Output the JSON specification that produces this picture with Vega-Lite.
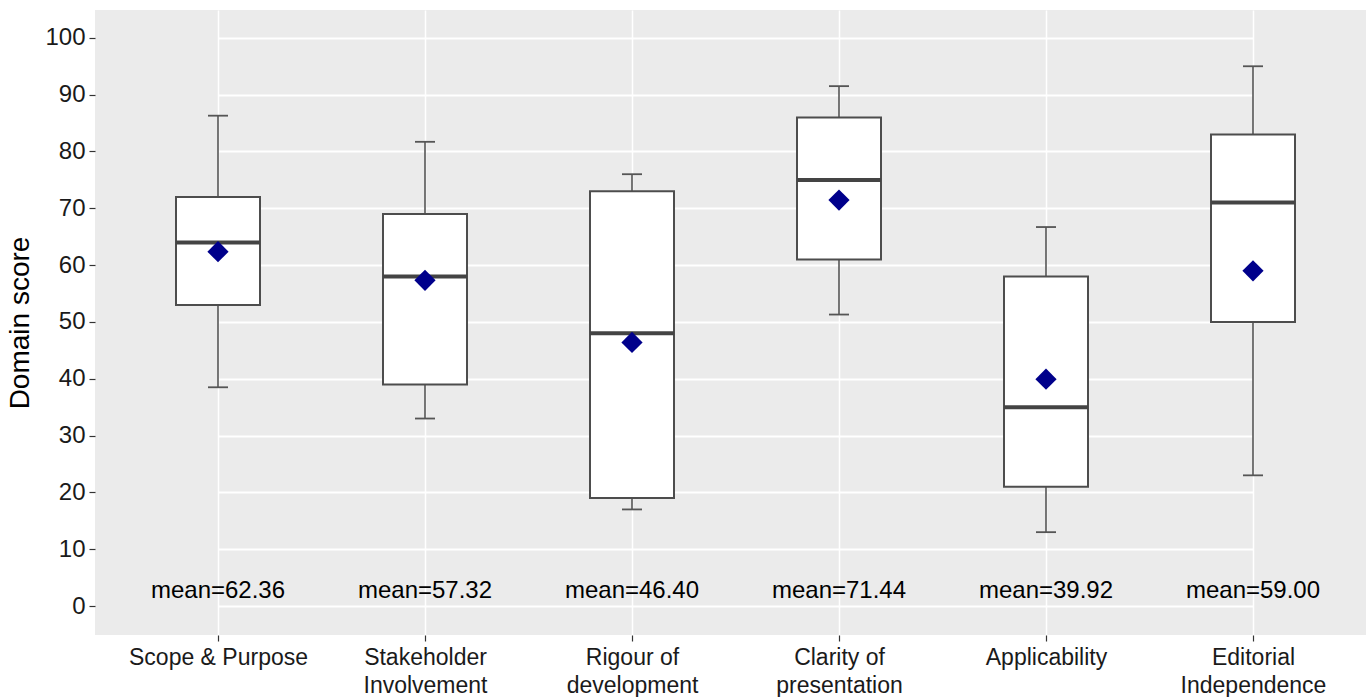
{
  "$schema": "https://vega.github.io/schema/vega-lite/v6.json",
  "width": 1271,
  "height": 625,
  "autosize": {"type": "none"},
  "padding": {"left": 95, "top": 10, "right": 0, "bottom": 62},
  "background": "white",
  "config": {
    "view": {"stroke": null, "fill": "#EBEBEB"},
    "font": "Liberation Sans"
  },
  "data": {
    "values": [
      {"domain": "Scope & Purpose", "low": 38.5, "q1": 53, "median": 64, "q3": 72, "high": 86.3, "mean": 62.36, "label": "mean=62.36", "ty": 2.6},
      {"domain": "Stakeholder|Involvement", "low": 33, "q1": 39, "median": 58, "q3": 69, "high": 81.7, "mean": 57.32, "label": "mean=57.32", "ty": 2.6},
      {"domain": "Rigour of|development", "low": 17, "q1": 19, "median": 48, "q3": 73, "high": 76, "mean": 46.4, "label": "mean=46.40", "ty": 2.6},
      {"domain": "Clarity of|presentation", "low": 51.3, "q1": 61, "median": 75, "q3": 86, "high": 91.5, "mean": 71.44, "label": "mean=71.44", "ty": 2.6},
      {"domain": "Applicability", "low": 13, "q1": 21, "median": 35, "q3": 58, "high": 66.7, "mean": 39.92, "label": "mean=39.92", "ty": 2.6},
      {"domain": "Editorial|Independence", "low": 23, "q1": 50, "median": 71, "q3": 83, "high": 95, "mean": 59.0, "label": "mean=59.00", "ty": 2.6}
    ]
  },
  "encoding": {
    "x": {
      "field": "domain",
      "type": "nominal",
      "sort": null,
      "scale": {"type": "point", "range": [123, 1158], "padding": 0},
      "axis": {
        "title": null,
        "domain": false,
        "grid": true,
        "gridColor": "white",
        "gridWidth": 1.5,
        "ticks": true,
        "tickColor": "#333333",
        "tickSize": 6,
        "tickWidth": 1.2,
        "labelAngle": 0,
        "labelFontSize": 23,
        "labelColor": "#1a1a1a",
        "labelPadding": 5,
        "labelLineHeight": 28,
        "labelBaseline": "top",
        "labelExpr": "split(datum.label, '|')"
      }
    }
  },
  "layer": [
    {
      "mark": {"type": "rule", "color": "#555555", "strokeWidth": 1.6},
      "encoding": {
        "y": {
          "field": "low",
          "type": "quantitative",
          "scale": {"domain": [-5.1, 104.9], "nice": false, "zero": false},
          "axis": {
            "title": "Domain score",
            "titleFontSize": 28,
            "titleFontWeight": "normal",
            "titleColor": "black",
            "titlePadding": 10,
            "values": [0, 10, 20, 30, 40, 50, 60, 70, 80, 90, 100],
            "domain": false,
            "grid": true,
            "gridColor": "white",
            "gridWidth": 2,
            "tickColor": "#333333",
            "tickSize": 6,
            "tickWidth": 1.2,
            "labelFontSize": 24,
            "labelColor": "#1a1a1a",
            "labelPadding": 4
          }
        },
        "y2": {"field": "high"}
      }
    },
    {
      "mark": {"type": "tick", "color": "#555555", "size": 20, "thickness": 1.8, "opacity": 1},
      "encoding": {"y": {"field": "low", "type": "quantitative"}}
    },
    {
      "mark": {"type": "tick", "color": "#555555", "size": 20, "thickness": 1.8, "opacity": 1},
      "encoding": {"y": {"field": "high", "type": "quantitative"}}
    },
    {
      "mark": {"type": "bar", "fill": "white", "stroke": "#4d4d4d", "strokeWidth": 2, "size": 84},
      "encoding": {
        "y": {"field": "q1", "type": "quantitative"},
        "y2": {"field": "q3"}
      }
    },
    {
      "mark": {"type": "tick", "color": "#444444", "size": 84, "thickness": 4, "opacity": 1},
      "encoding": {"y": {"field": "median", "type": "quantitative"}}
    },
    {
      "mark": {"type": "point", "shape": "diamond", "filled": true, "color": "#00008B", "size": 450, "opacity": 1},
      "encoding": {"y": {"field": "mean", "type": "quantitative"}}
    },
    {
      "mark": {"type": "text", "fontSize": 24, "color": "black", "baseline": "middle"},
      "encoding": {
        "y": {"field": "ty", "type": "quantitative"},
        "text": {"field": "label"}
      }
    }
  ]
}
